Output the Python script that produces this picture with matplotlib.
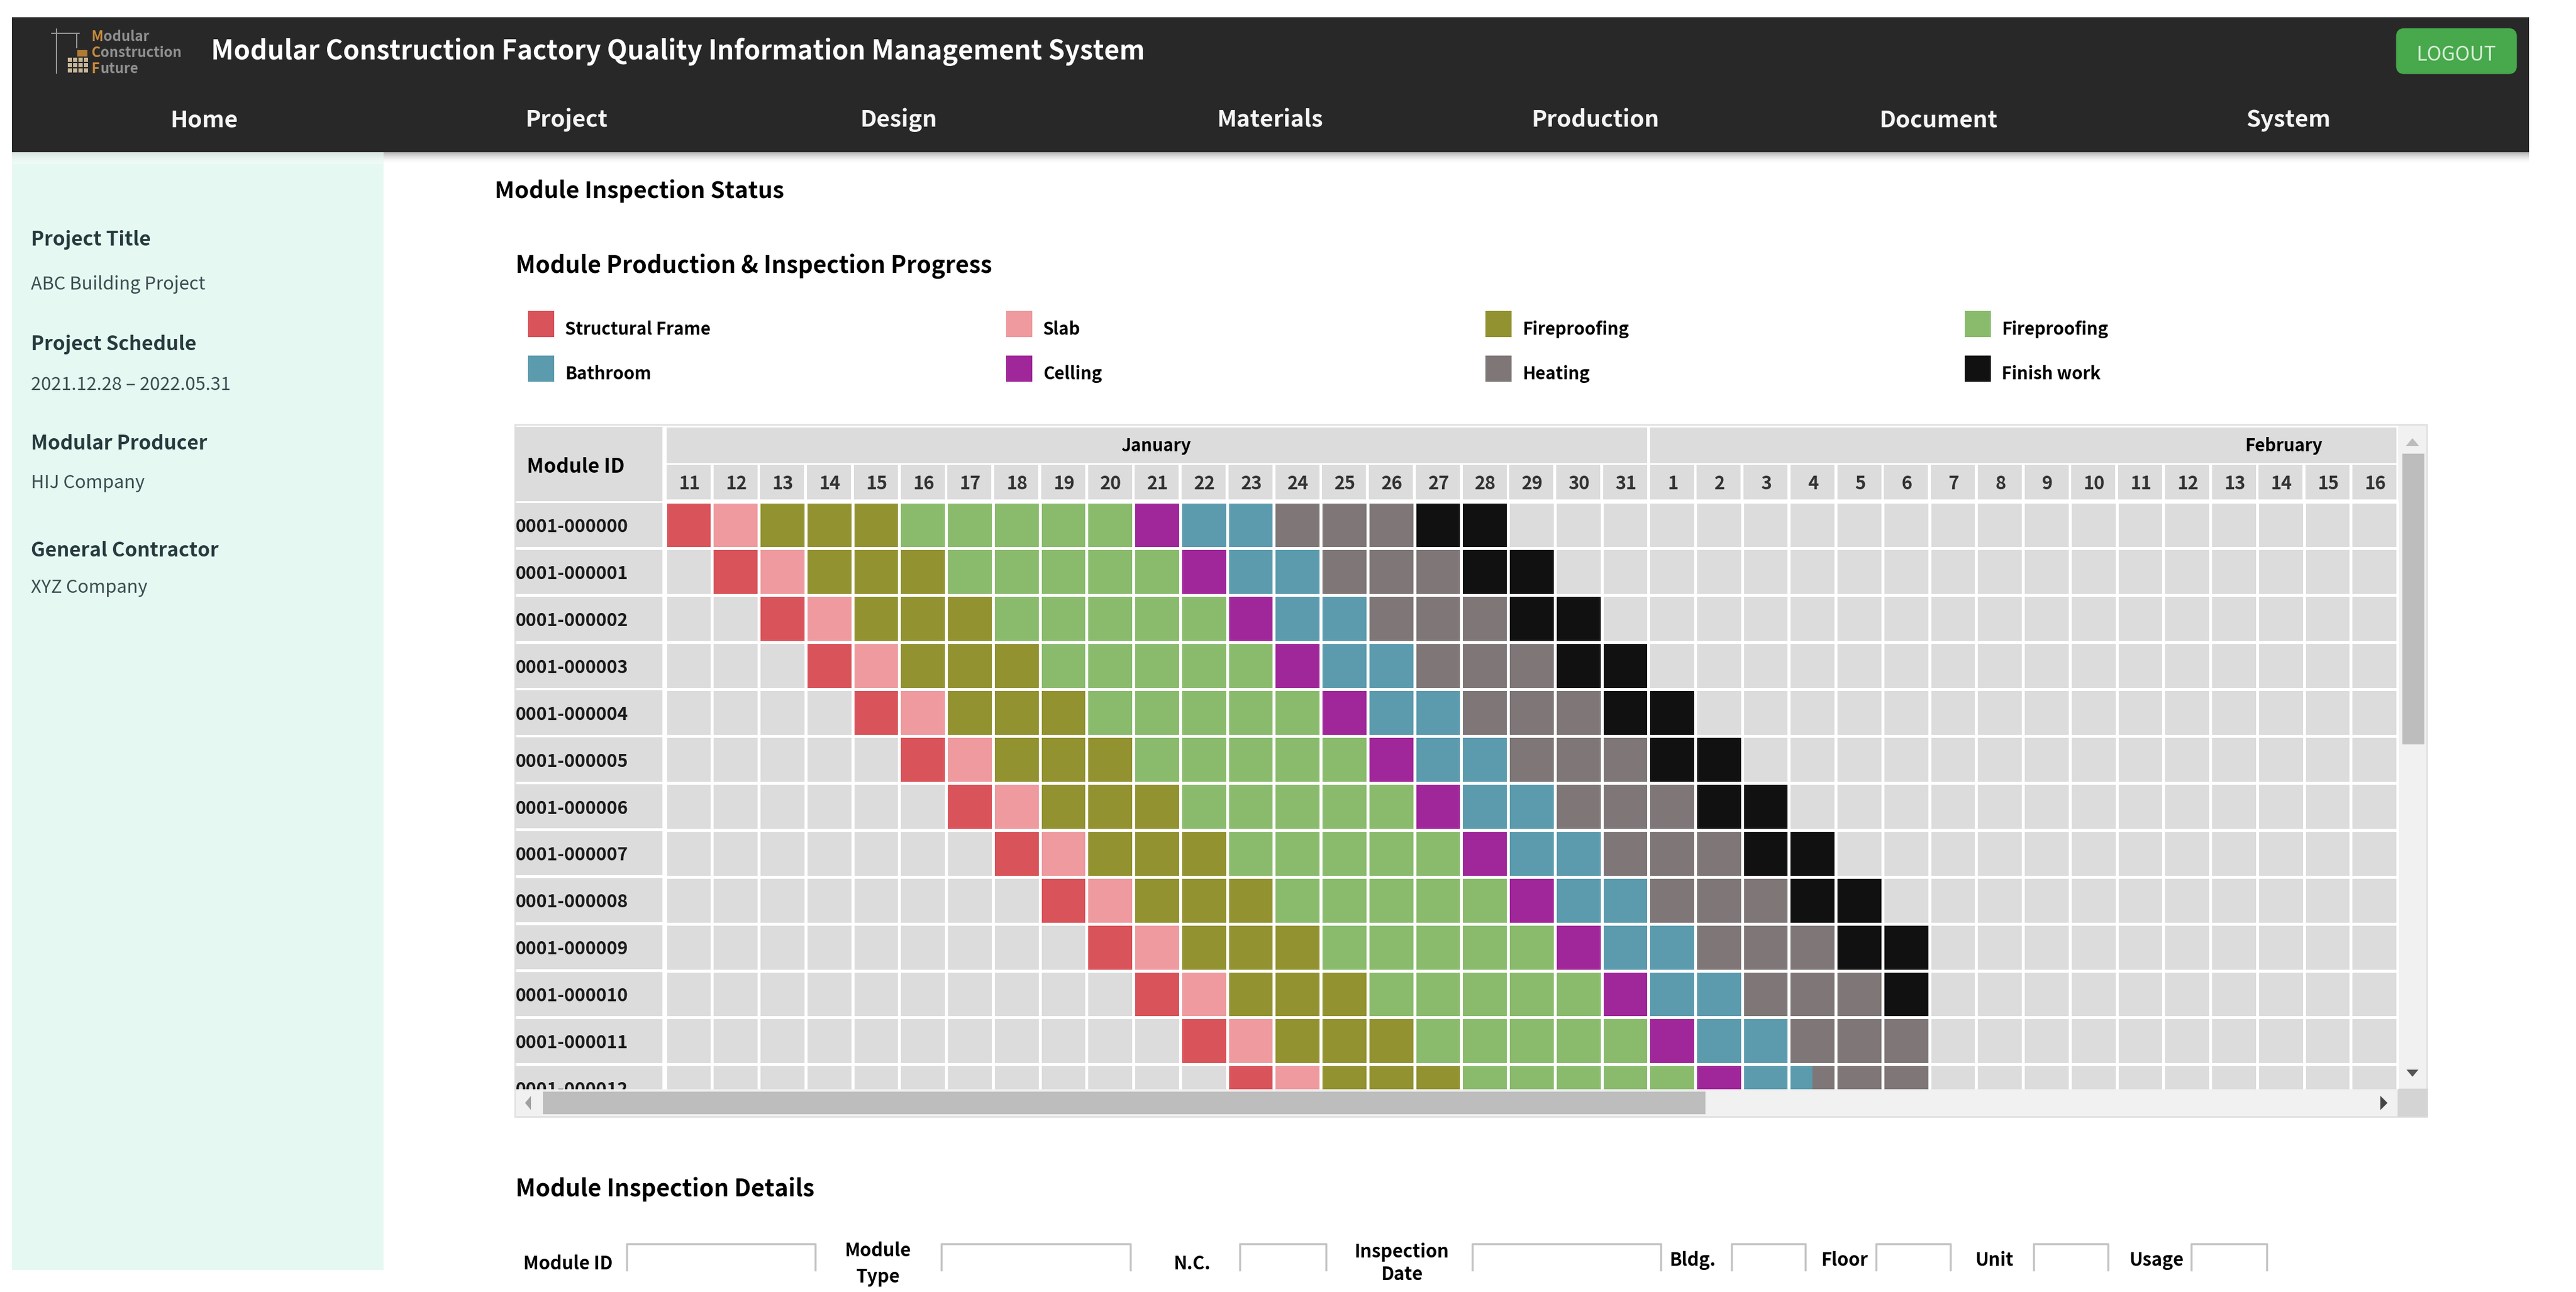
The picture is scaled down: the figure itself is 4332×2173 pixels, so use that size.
import matplotlib
matplotlib.use("Agg")
import matplotlib.pyplot as plt
import numpy as np
from matplotlib.colors import ListedColormap
from matplotlib.patches import FancyBboxPatch, Polygon, Rectangle

plt.rcParams['font.family'] = ['Noto Sans CJK KR', 'DejaVu Sans']

W, H = 4332, 2173

# chart data
stage_names = ['Structural Frame', 'Slab', 'Fireproofing', 'Fireproofing',
               'Bathroom', 'Celling', 'Heating', 'Finish work']
legend_codes = ['R', 'S', 'O', 'G', 'B', 'P', 'H', 'K']
codes = '.RSOGPBHK'
code_colors = ['#dcdcdc', '#d9535a', '#ee9a9f', '#929231', '#8abb6d',
               '#a0279a', '#5b9bad', '#7f7777', '#111111']
days = [11, 12, 13, 14, 15, 16, 17, 18, 19, 20, 21, 22, 23, 24, 25, 26, 27, 28, 29, 30, 31,
        1, 2, 3, 4, 5, 6, 7, 8, 9, 10, 11, 12, 13, 14, 15, 16]
months = ['January', 'February']
month_days = [21, 16]
module_ids = ['0001-000000', '0001-000001', '0001-000002', '0001-000003', '0001-000004',
              '0001-000005', '0001-000006', '0001-000007', '0001-000008', '0001-000009',
              '0001-000010', '0001-000011', '0001-000012']
schedule = [
    "RSOOOGGGGGPBBHHHKK...................",
    ".RSOOOGGGGGPBBHHHKK..................",
    "..RSOOOGGGGGPBBHHHKK.................",
    "...RSOOOGGGGGPBBHHHKK................",
    "....RSOOOGGGGGPBBHHHKK...............",
    ".....RSOOOGGGGGPBBHHHKK..............",
    "......RSOOOGGGGGPBBHHHKK.............",
    ".......RSOOOGGGGGPBBHHHKK............",
    "........RSOOOGGGGGPBBHHHKK...........",
    ".........RSOOOGGGGGPBBHHHKK..........",
    "..........RSOOOGGGGGPBBHHHK..........",
    "...........RSOOOGGGGGPBBHHH..........",
    "............RSOOOGGGGGPBBHH..........",
]
nav_items = ['Home', 'Project', 'Design', 'Materials', 'Production', 'Document', 'System']
side_info = [('Project Title', 'ABC Building Project'),
             ('Project Schedule', '2021.12.28 – 2022.05.31'),
             ('Modular Producer', 'HIJ Company'),
             ('General Contractor', 'XYZ Company')]

fig = plt.figure(figsize=(W / 100, H / 100), dpi=100, facecolor='white')

# page axes in pixels, everything that is not the grid goes here
page = fig.add_axes([0, 0, 1, 1])
page.set_xlim(0, W)
page.set_ylim(H, 0)
page.axis('off')


def box(x0, y0, x1, y1, color, **kw):
    page.add_patch(Rectangle((x0, y0), x1 - x0, y1 - y0, facecolor=color, edgecolor='none', **kw))


def label(x, y, s, size, color='black', weight='bold', ha='left'):
    page.text(x, y + 3, s, fontsize=size, color=color, fontweight=weight, ha=ha, va='center')


# header bar
box(20, 29, 4253, 256, '#282828')
for i in range(20):
    box(20, 256 + i, 4253, 257 + i, 'black', alpha=0.30 * (1 - i / 20) ** 2)
box(20, 276, 645, 2136, '#e6f8f2')
for i in range(20):
    box(20, 256 + i, 645, 257 + i, '#e6f8f2', alpha=0.7)

# logo
page.plot([95, 95], [49, 123], color='#999999', lw=1.5)
page.plot([87, 133], [56, 56], color='#999999', lw=1.5)
page.plot([129, 129], [56, 80], color='#999999', lw=1.5)
for gx in range(4):
    for gy in range(3):
        box(114 + gx * 9, 97 + gy * 9, 121 + gx * 9, 104 + gy * 9, '#c9b99a')
box(130, 84, 147, 95, '#b07b35')
logo_words = [('M', 'odular', 62), ('C', 'onstruction', 89), ('F', 'uture', 116)]
for first, rest, ly in logo_words:
    t = page.text(154, ly, first, fontsize=17, color='#c58a3c', fontweight='bold', va='center')
    page.annotate(rest, xy=(1, 0.5), xycoords=t, va='center', fontsize=17, color='#8f8f8f',
                  fontweight='bold')

label(355, 84, 'Modular Construction Factory Quality Information Management System', 32, 'white')
nav_x = [343, 953, 1511, 2136, 2683, 3260, 3849]
for x, s in zip(nav_x, nav_items):
    label(x, 199, s, 28, '#f5f5f5', ha='center')

page.add_patch(FancyBboxPatch((4035, 53), 192, 66, boxstyle='round,pad=0,rounding_size=8',
                              facecolor='#47a84c', edgecolor='#47a84c', lw=8))
label(4131, 89, 'LOGOUT', 24, '#d8eed8', weight='normal', ha='center')

# sidebar
side_y = [(401, 475), (577, 644), (743, 810), (923, 986)]
for (head, val), (y0, y1) in zip(side_info, side_y):
    label(52, y0, head, 24, '#263b3d')
    label(52, y1, val, 22, '#3c4f50', weight='normal')

# titles
label(832, 318, 'Module Inspection Status', 28)
label(867, 445, 'Module Production & Inspection Progress', 28.3)
label(867, 1997, 'Module Inspection Details', 28.4)

# legend
legend_x = [888, 1692, 2498, 3304]
legend_y = [523, 598]
for i, (name, code) in enumerate(zip(stage_names, legend_codes)):
    lx = legend_x[i % 4]
    ly = legend_y[i // 4]
    box(lx, ly, lx + 44, ly + 44, code_colors[codes.index(code)])
    label(lx + 62, ly + 28, name, 21)

# grid frame and scrollbars
box(865, 713, 4083, 1880, '#e2e2e2')
box(868, 716, 4080, 1877, '#f1f1f1')
box(868, 716, 4033, 1832, 'white')
box(4040, 763, 4077, 1252, '#bdbdbd')
box(913, 1836, 2868, 1874, '#bdbdbd')
box(4032, 1831, 4083, 1878, '#d4d4d4')
page.add_patch(Polygon([[4046, 750], [4068, 750], [4057, 737]], facecolor='#bcbcbc'))
page.add_patch(Polygon([[4047, 1799], [4067, 1799], [4057, 1811]], facecolor='#555555'))
page.add_patch(Polygon([[893, 1843], [893, 1867], [883, 1855]], facecolor='#a0a0a0'))
page.add_patch(Polygon([[4003, 1843], [4003, 1867], [4015, 1855]], facecolor='#444444'))

# form row
form_labels = [(955, 2123, 'Module ID'), (1476, 2101, 'Module'), (1476, 2145, 'Type'),
               (2005, 2123, 'N.C.'), (2357, 2103, 'Inspection'), (2357, 2141, 'Date'),
               (2846, 2117, 'Bldg.'), (3102, 2117, 'Floor'), (3354, 2117, 'Unit'), (3626, 2117, 'Usage')]
for x, y, s in form_labels:
    label(x, y, s, 22, ha='center')
form_boxes = [(1054, 1371), (1583, 1901), (2085, 2230), (2476, 2793),
              (2912, 3036), (3155, 3280), (3420, 3545), (3685, 3812)]
for x0, x1 in form_boxes:
    page.plot([x0, x0, x1, x1], [2136, 2092, 2092, 2136], color='#c4c4c4', lw=2.5,
              solid_joinstyle='round')

# gantt grid, units are columns and rows
col_w, row_h = 78.75, 78.9
x0_px, y0_px = 1118.5, 843.5
ax_l, ax_r, ax_t, ax_b = 866, 4034, 718, 1832
ax = fig.add_axes([ax_l / W, 1 - ax_b / H, (ax_r - ax_l) / W, (ax_b - ax_t) / H])
ax.set_xlim((ax_l - x0_px) / col_w, (ax_r - x0_px) / col_w)
ax.set_ylim((ax_b - y0_px) / row_h, (ax_t - y0_px) / row_h)
ax.axis('off')

grid = np.array([[codes.index(c) for c in row] for row in schedule])
ax.pcolormesh(np.arange(len(days) + 1), np.arange(len(module_ids) + 1), grid,
              cmap=ListedColormap(code_colors), vmin=-0.5, vmax=8.5,
              edgecolors='white', linewidth=3.6)
# last visible row: the Feb 4 cell is half Bathroom, half Heating
ax.add_patch(Rectangle((24.5, 12.03), 0.47, 0.9, facecolor=code_colors[7], edgecolor='none'))

left_edge = (ax_l - x0_px) / col_w
for r, name in enumerate(module_ids):
    ax.barh(r + 0.5, -0.06 - left_edge, left=left_edge, height=0.94, color='#dcdcdc')
    ax.text(left_edge + 0.01, r + 0.54, name, fontsize=21.7, fontweight='bold', color='#1a1a1a',
            va='center', ha='left', clip_on=True)

# header cells
ax.barh(-0.8, -0.06 - left_edge, left=left_edge, height=1.58, color='#dcdcdc')
ax.text(left_edge + 0.25, -0.73, 'Module ID', fontsize=24, fontweight='bold', va='center')
start = 0
for month, n, lbl_x in zip(months, month_days, [10.48, 34.56]):
    ax.barh(-1.2, n - 0.06, left=start + 0.03, height=0.76, color='#dcdcdc')
    ax.text(lbl_x, -1.19, month, fontsize=21, fontweight='bold', va='center', ha='center')
    start += n
ax.bar(np.arange(len(days)) + 0.5, 0.74, bottom=-0.78, width=0.94, color='#dcdcdc')
for c, d in enumerate(days):
    ax.text(c + 0.52, -0.37, str(d), fontsize=22, color='#333333', fontweight='bold',
            va='center', ha='center')

fig.savefig('out.png', dpi=100)
